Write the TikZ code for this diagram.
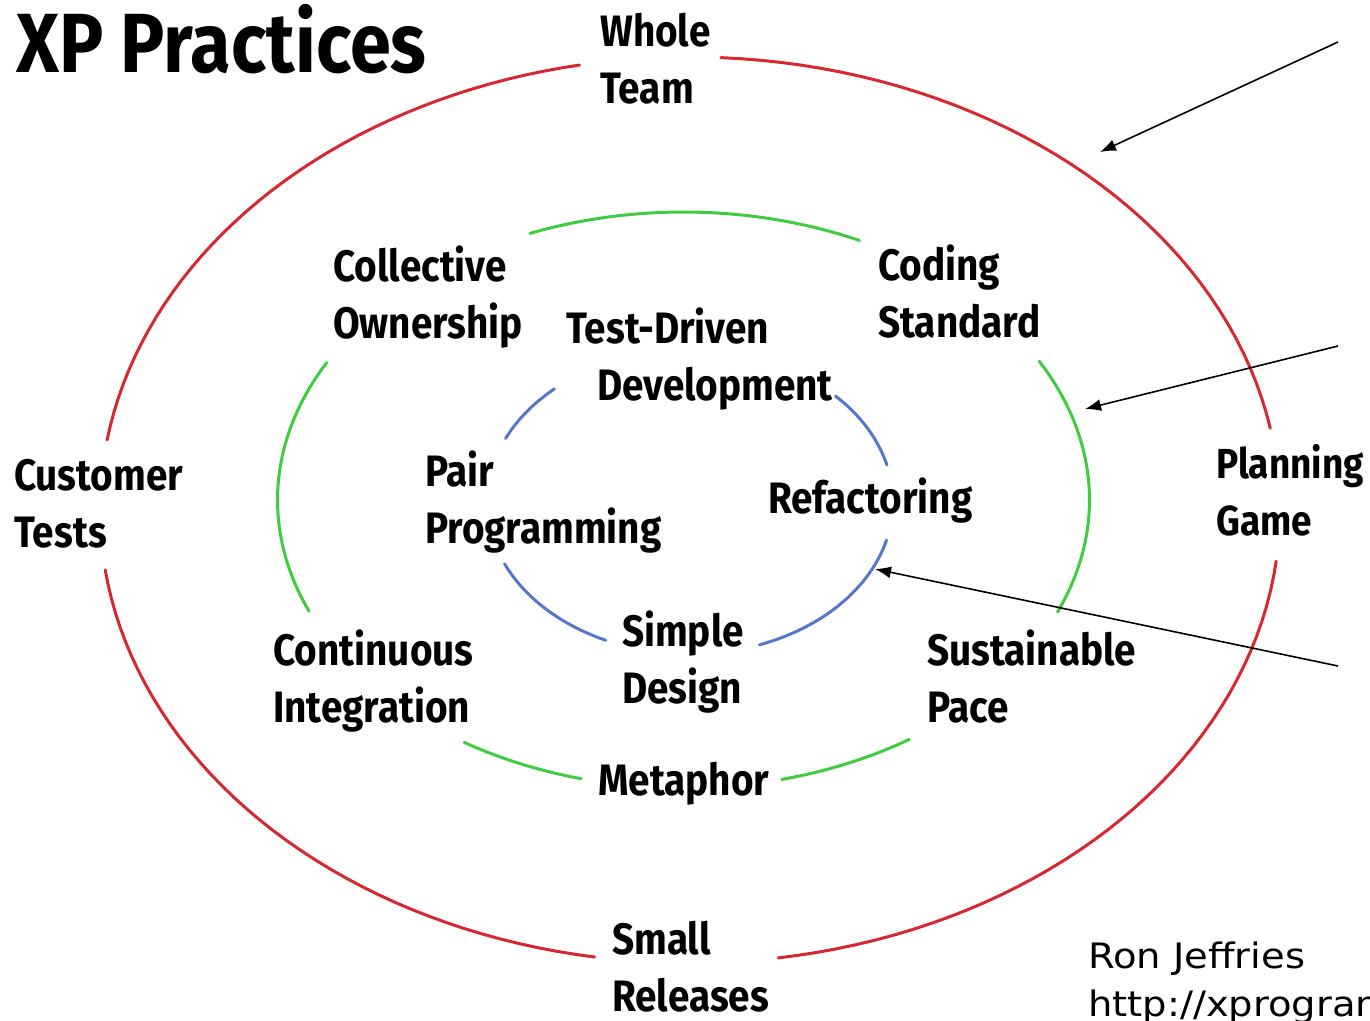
\documentclass[tikz,border=0pt]{standalone}
\usepackage{fontspec}
\usepackage{tikz}
\usetikzlibrary{arrows.meta,positioning}
\newfontfamily\handfont{Fira Sans}[FakeStretch=0.88]
\newfontfamily\signfont{DejaVu Sans}[FakeStretch=1.1]
\definecolor{outerred}{RGB}{214,40,48}
\definecolor{midgreen}{RGB}{64,204,64}
\definecolor{innerblue}{RGB}{88,118,204}

\begin{document}
\begin{tikzpicture}[x=1pt, y=-1pt, align=left, inner sep=0pt,
  practice/.style={anchor=base west, font=\handfont\bfseries\fontsize{44}{57}\selectfont},
  ring/.style={line width=3pt, line cap=round},
  pointer/.style={line width=1.6pt, -{Latex[length=16pt,width=12pt]}}]
\useasboundingbox (0,0) rectangle (1370,1020);
\clip (0,0) rectangle (1370,1020);

\node (title) [anchor=base west, font=\handfont\bfseries\fontsize{84}{90}\selectfont] at (16,72) {XP Practices};

% outer ring
\foreach \a/\b in {-87/-10.4, 6.5/81.4, 99.3/172.4, 188.9/259.2}
  \draw[ring, outerred] plot[domain=\a:\b, samples=40] ({690+590*cos(\x)}, {510+453*sin(\x)});

\node (whole) [practice] at (600,103) {Whole\\Team};
\node (customer) [practice] at (14,547) {Customer\\Tests};
\node (planning) [practice, font=\handfont\bfseries\fontsize{42}{57}\selectfont] at (1216,535) {Planning\\Game};
\node (small) [practice] at (612,1011) {Small\\Releases};

% -------------------------------

% middle ring
\foreach \a/\b in {-112.2/-64.3, -28.8/22.9, 56.2/76, 104.6/122.7, 157.3/208.5}
  \draw[ring, midgreen] plot[domain=\a:\b, samples=30] ({683.5+406*cos(\x)}, {500+288*sin(\x)});

\node (collective) [practice] at (333,338) {Collective\\Ownership};
\node (coding) [practice] at (878,337) {Coding\\Standard};
\node (continuous) [practice] at (273,722) {Continuous\\Integration};
\node (sustainable) [practice] at (927,722) {Sustainable\\Pace};
\node (metaphor) [practice] at (598,795) {Metaphor};

% -------------------------------

% inner ring
\foreach \a/\b in {204.7/228.1, -44.2/-14.1, 14.5/70, 114.5/156}
  \draw[ring, innerblue] plot[domain=\a:\b, samples=30] ({690+203*cos(\x)}, {502+152*sin(\x)});

\node (tdd) [practice] at (566,400) {Test-Driven\\\hspace*{31pt}Development};
\node (pair) [practice] at (425,543) {Pair\\Programming};
\node (refactoring) [practice] at (768,513) {Refactoring};
\node (simple) [practice] at (622,703) {Simple\\Design};

% -------------------------------

\coordinate (outer tail) at (1338,42);
\coordinate (outer head) at (1100,152);
\coordinate (middle tail) at (1338,346);
\coordinate (middle head) at (1085,409);
\coordinate (inner tail) at (1338,666);
\coordinate (inner head) at (875,569);

\draw[pointer] (outer tail) -- (outer head);
\draw[pointer] (middle tail) -- (middle head);
\draw[pointer] (inner tail) -- (inner head);

\node (credit) [anchor=base west, font=\signfont\fontsize{35}{48}\selectfont] at (1088,1016) {Ron Jeffries\\http://xprogramming.com};
\end{tikzpicture}
\end{document}
